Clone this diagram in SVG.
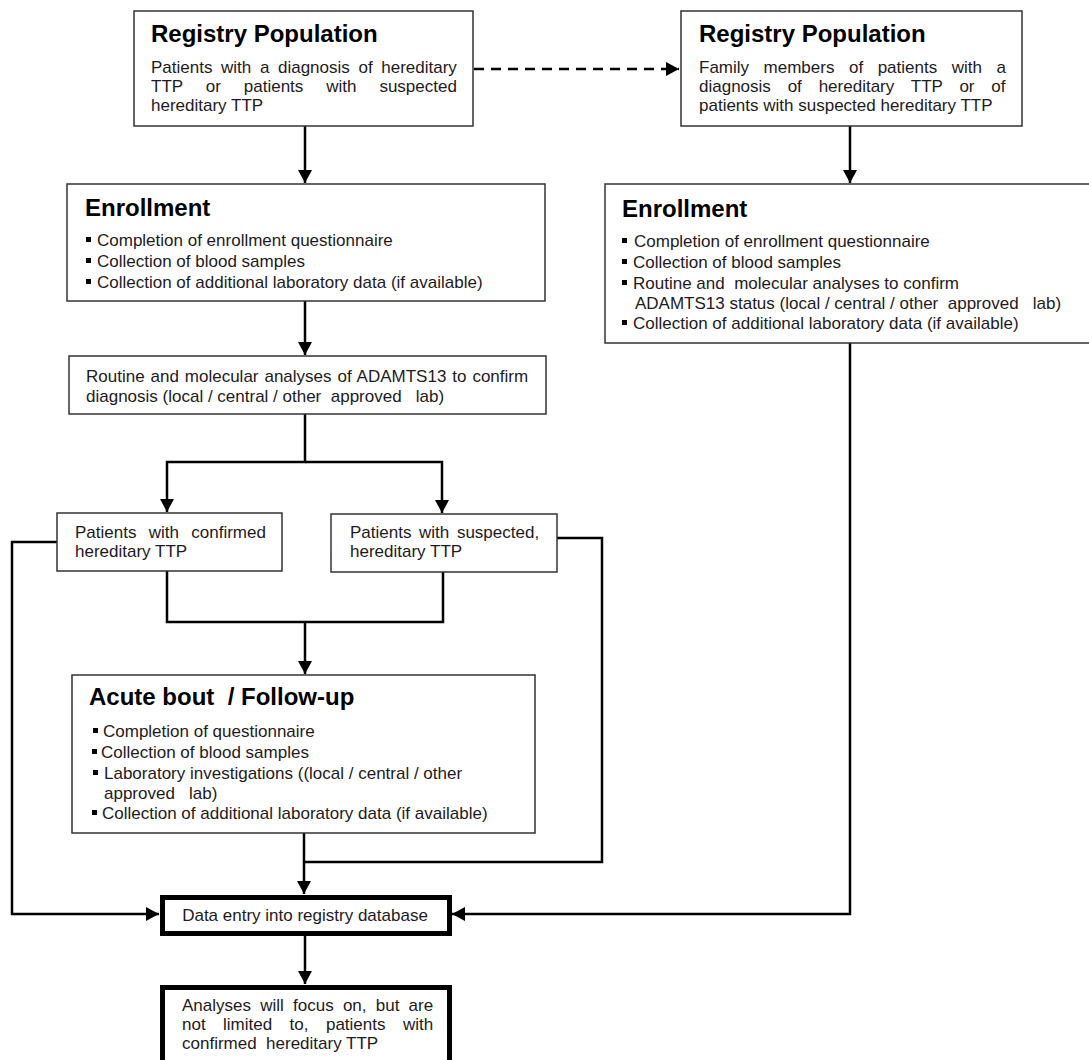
<svg xmlns="http://www.w3.org/2000/svg" width="1089" height="1060" viewBox="0 0 1089 1060">
<defs>
<style>
.box{fill:#fff;stroke:#333;stroke-width:1.5}
.thick{fill:#fff;stroke:#000;stroke-width:5}
.t{font-family:"Liberation Sans",Arial,sans-serif;font-size:17px;fill:#1e1a22;white-space:pre}
.h{font-family:"Liberation Sans",Arial,sans-serif;font-size:24px;font-weight:bold;fill:#000;white-space:pre}
.c{fill:none;stroke:#000;stroke-width:2.5}
.d{fill:none;stroke:#000;stroke-width:2.5;stroke-dasharray:10 7}
.b{fill:#000}
</style>
<marker id="ah" markerUnits="userSpaceOnUse" markerWidth="14" markerHeight="14" viewBox="0 0 14 14" refX="13" refY="7" orient="auto">
<path d="M0,0 L13,7 L0,14 Z" fill="#000"/>
</marker>
</defs>
<rect width="1089" height="1060" fill="#fff"/>

<g id="connectors">
<path class="d" d="M474,69 H679" marker-end="url(#ah)"/>
<path class="c" d="M305,126 V183" marker-end="url(#ah)"/>
<path class="c" d="M850,126 V183" marker-end="url(#ah)"/>
<path class="c" d="M305,301 V355" marker-end="url(#ah)"/>
<path class="c" d="M305,414 V462 H167 V512" marker-end="url(#ah)"/>
<path class="c" d="M305,462 H442 V513" marker-end="url(#ah)"/>
<path class="c" d="M167,571 V622 H443 V572"/>
<path class="c" d="M305,622 V674" marker-end="url(#ah)"/>
<path class="c" d="M57,542 H12 V914 H159" marker-end="url(#ah)"/>
<path class="c" d="M557,538 H602 V862 H304"/>
<path class="c" d="M304,833 V894" marker-end="url(#ah)"/>
<path class="c" d="M850,343 V914 H452" marker-end="url(#ah)"/>
<path class="c" d="M305,936 V984" marker-end="url(#ah)"/>
</g>

<g id="registry-left">
<rect class="box" x="134" y="11" width="339" height="115"/>
<text class="h" x="151" y="42">Registry Population</text>
<text class="t" x="151" y="73" word-spacing="3.9">Patients with a diagnosis of hereditary</text>
<text class="t" x="151" y="92" word-spacing="18.2">TTP or patients with suspected</text>
<text class="t" x="151" y="111">hereditary TTP</text>
</g>

<g id="registry-right">
<rect class="box" x="681" y="11" width="341" height="115"/>
<text class="h" x="699" y="42">Registry Population</text>
<text class="t" x="699" y="73" word-spacing="9.8">Family members of patients with a</text>
<text class="t" x="699" y="92" word-spacing="12.1">diagnosis of hereditary TTP or of</text>
<text class="t" x="699" y="111">patients with suspected hereditary TTP</text>
</g>

<g id="enrollment-left">
<rect class="box" x="67" y="184" width="478" height="117"/>
<text class="h" x="85" y="216">Enrollment</text>
<rect class="b" x="86" y="237" width="5" height="5"/>
<rect class="b" x="86" y="258" width="5" height="5"/>
<rect class="b" x="86" y="279" width="5" height="5"/>
<text class="t" x="97" y="246">Completion of enrollment questionnaire</text>
<text class="t" x="97" y="267">Collection of blood samples</text>
<text class="t" x="97" y="288">Collection of additional laboratory data (if available)</text>
</g>

<g id="enrollment-right">
<rect class="box" x="605" y="184" width="500" height="159"/>
<text class="h" x="622" y="217">Enrollment</text>
<rect class="b" x="622" y="238" width="5" height="5"/>
<rect class="b" x="622" y="259" width="5" height="5"/>
<rect class="b" x="622" y="280" width="5" height="5"/>
<rect class="b" x="622" y="320" width="5" height="5"/>
<text class="t" x="634" y="247">Completion of enrollment questionnaire</text>
<text class="t" x="633" y="268">Collection of blood samples</text>
<text class="t" x="633" y="289">Routine and  molecular analyses to confirm</text>
<text class="t" x="635" y="309">ADAMTS13 status (local / central / other  approved   lab)</text>
<text class="t" x="633" y="329">Collection of additional laboratory data (if available)</text>
</g>

<g id="routine">
<rect class="box" x="69" y="356" width="477" height="58"/>
<text class="t" x="86" y="382" word-spacing="1.2">Routine and molecular analyses of ADAMTS13 to confirm</text>
<text class="t" x="86" y="402">diagnosis (local / central / other  approved   lab)</text>
</g>

<g id="confirmed">
<rect class="box" x="57" y="513" width="225" height="58"/>
<text class="t" x="75" y="538" word-spacing="7.6">Patients with confirmed</text>
<text class="t" x="75" y="557">hereditary TTP</text>
</g>

<g id="suspected">
<rect class="box" x="331" y="514" width="226" height="58"/>
<text class="t" x="350" y="538" word-spacing="2.9">Patients with suspected,</text>
<text class="t" x="350" y="557">hereditary TTP</text>
</g>

<g id="acute">
<rect class="box" x="72" y="675" width="463" height="158"/>
<text class="h" x="89" y="705">Acute bout  / Follow-up</text>
<rect class="b" x="93" y="728" width="5" height="5"/>
<rect class="b" x="92" y="749" width="5" height="5"/>
<rect class="b" x="93" y="770" width="5" height="5"/>
<rect class="b" x="92" y="810" width="5" height="5"/>
<text class="t" x="103" y="737">Completion of questionnaire</text>
<text class="t" x="101" y="758">Collection of blood samples</text>
<text class="t" x="104" y="779">Laboratory investigations ((local / central / other</text>
<text class="t" x="104" y="799">approved   lab)</text>
<text class="t" x="102" y="819">Collection of additional laboratory data (if available)</text>
</g>

<g id="data-entry">
<rect class="thick" x="162.5" y="897.5" width="287" height="36"/>
<text class="t" x="305" y="921" text-anchor="middle">Data entry into registry database</text>
</g>

<g id="analyses">
<rect class="thick" x="162.5" y="987.5" width="287" height="90"/>
<text class="t" x="182" y="1011" word-spacing="4.5">Analyses will focus on, but are</text>
<text class="t" x="182" y="1030" word-spacing="12.7">not limited to, patients with</text>
<text class="t" x="182" y="1049">confirmed  hereditary TTP</text>
</g>
</svg>
